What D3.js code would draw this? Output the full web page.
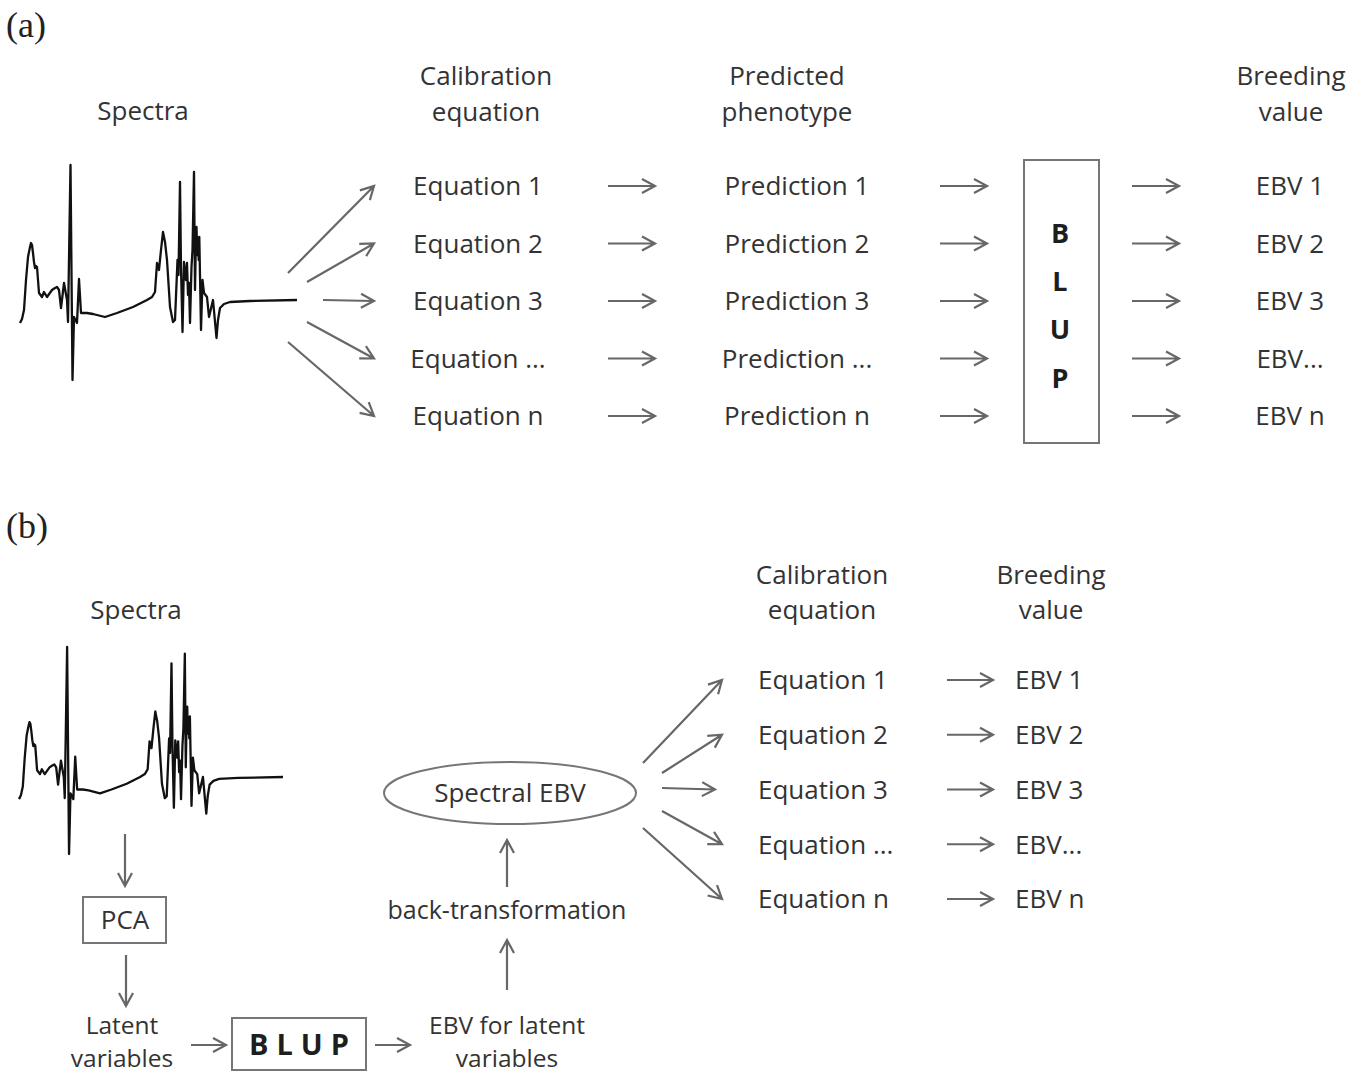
<!DOCTYPE html>
<html>
<head>
<meta charset="utf-8">
<script src="https://cdn.jsdelivr.net/npm/d3@7"></script>
<style>
  html, body { margin: 0; padding: 0; background: #fff; }
  svg { display: block; }
  .lbl { font-family: "Open Sans", sans-serif; fill: #333; }
  .panel { font-family: "Liberation Serif", "Times New Roman", serif; fill: #222; }
</style>
</head>
<body>
<div id="chart"></div>
<script>
// ---- data ----
// spectrum trace: relative wavenumber index and absorbance (arbitrary units)
const spectrumIndex = [0, 2, 4, 6, 8, 10, 11, 12, 13, 14, 15, 16, 17, 19, 22, 24, 27, 32, 35, 37, 39, 41, 44, 47, 48,
  50.5, 52.5, 54, 57, 59, 61, 67, 73, 85, 97, 113, 127, 132, 135, 137, 139, 141, 143, 145, 147, 150, 153, 155,
  157.5, 158.5, 160, 161, 162.5, 164, 165, 166, 167, 168, 169, 170, 171.5, 172.5, 174, 175, 175.8, 176.5,
  177.2, 178, 178.7, 179.3, 180, 181, 182.5, 184, 187, 189, 193, 196.5, 198, 200, 204, 210, 230, 277];
const spectrumAbs = [-23, -19, -10, 20, 43, 53, 57, 55, 47, 38, 32, 34, 33, 7, 3, 8, 3, 10, 12, 13, 10, -8, 17, 0, -22,
  135, -80, -17, -23, 21, -13, -13, -14, -17, -13, -7, 0, 3, 8, 37, 30, 50, 68, 58, 40, -7, -22, -20,
  40, 25, 118, 33, -32, 38, 28, 20, 37, 5, 17, -23, 33, 50, 128, 10, 55, 73, 45, 62, 40, 63, 25, -30, 20, 7,
  3, -17, 0, -38, -20, -8, -4, -2, -1, 0];

const headerTextA = [['Spectra'], ['Calibration', 'equation'], ['Predicted', 'phenotype'], ['Breeding', 'value']];
const equationLabels = ['Equation 1', 'Equation 2', 'Equation 3', 'Equation ...', 'Equation n'];
const predictionLabels = ['Prediction 1', 'Prediction 2', 'Prediction 3', 'Prediction ...', 'Prediction n'];
const ebvLabels = ['EBV 1', 'EBV 2', 'EBV 3', 'EBV...', 'EBV n'];
const blupLetters = ['B', 'L', 'U', 'P'];

const headerTextB = [['Spectra'], ['Calibration', 'equation'], ['Breeding', 'value']];
const pipelineTextB = {
  pca: 'PCA',
  latent: ['Latent', 'variables'],
  blup: 'BLUP',
  latentEbv: ['EBV for latent', 'variables'],
  back: 'back-transformation',
  spectral: 'Spectral EBV'
};
const panelLabels = ['(a)', '(b)'];

// ---- setup ----
const W = 1359, H = 1074;
const FS = 26;            // main font size
const ARROW = '#676767';
const BOX = '#767676';

const svg = d3.select('#chart').append('svg')
  .attr('width', W)
  .attr('height', H);

// draw an arrow with an open chevron head
const arrow = (g, x1, y1, x2, y2) => {
  const ang = Math.atan2(y2 - y1, x2 - x1);
  const len = 13, half = 7;
  const bx = x2 - len * Math.cos(ang), by = y2 - len * Math.sin(ang);
  const px = -Math.sin(ang) * half, py = Math.cos(ang) * half;
  g.append('path')
    .attr('d', `M${x1},${y1}L${x2},${y2}M${bx + px},${by + py}L${x2},${y2}L${bx - px},${by - py}`)
    .attr('fill', 'none')
    .attr('stroke', ARROW)
    .attr('stroke-width', 2.2)
    .attr('stroke-linejoin', 'miter');
};

// text centred on a cap-height midline
const label = (g, txt, x, cy, anchor, size) => {
  const s = size || FS;
  return g.append('text')
    .attr('class', 'lbl')
    .attr('x', x)
    .attr('y', cy + s * 0.714 / 2)
    .attr('text-anchor', anchor || 'middle')
    .attr('font-size', s)
    .text(txt);
};

// multi-line header, baseline of first line given
const header = (g, lines, x, y0, gap, size) => {
  lines.forEach((t, i) => {
    g.append('text')
      .attr('class', 'lbl')
      .attr('x', x)
      .attr('y', y0 + i * gap)
      .attr('text-anchor', 'middle')
      .attr('font-size', size || FS)
      .text(t);
  });
};

const spectrum = spectrumIndex.map((u, i) => [u, spectrumAbs[i]]);

const drawSpectrum = (g, xr, yr) => {
  const x = d3.scaleLinear().domain([0, 277]).range(xr);
  const y = d3.scaleLinear().domain([-80, 135]).range(yr);
  const line = d3.line().x(d => x(d[0])).y(d => y(d[1]));
  g.append('path')
    .datum(spectrum)
    .attr('d', line)
    .attr('fill', 'none')
    .attr('stroke', '#111')
    .attr('stroke-width', 2.3)
    .attr('stroke-linejoin', 'round');
};

// ---- panel (a) ----
const gA = svg.append('g');
gA.append('text').attr('class', 'panel').attr('x', 6).attr('y', 37)
  .attr('font-size', 36).text(panelLabels[0]);

const headerXA = [143, 486, 787, 1291];
headerTextA.forEach((lines, i) => {
  if (lines.length === 1) header(gA, lines, headerXA[i], 120, 36);
  else header(gA, lines, headerXA[i], 85, 36);
});

drawSpectrum(gA, [20, 297], [380, 165]);

const rowA = d3.scalePoint().domain(d3.range(equationLabels.length)).range([186, 416]);

// fan of arrows from the spectrum
const fanStartA = [[288, 273], [307, 282], [323, 300], [307, 322], [288, 342]];
fanStartA.forEach((s, i) => arrow(gA, s[0], s[1], 374, rowA(i)));

equationLabels.forEach((t, i) => label(gA, t, 478, rowA(i)));
predictionLabels.forEach((t, i) => label(gA, t, 797, rowA(i)));
ebvLabels.forEach((t, i) => label(gA, t, 1290, rowA(i)));

d3.range(equationLabels.length).forEach(i => {
  const y = rowA(i);
  arrow(gA, 608, y, 655, y);
  arrow(gA, 940, y, 987, y);
  arrow(gA, 1132, y, 1179, y);
});

gA.append('rect')
  .attr('x', 1024).attr('y', 160)
  .attr('width', 75).attr('height', 283)
  .attr('fill', 'none').attr('stroke', BOX).attr('stroke-width', 2);

const blupY = d3.scalePoint().domain(blupLetters).range([233, 378]);
blupLetters.forEach(l => {
  label(gA, l, 1060, blupY(l), 'middle', 27)
    .attr('font-weight', 'bold')
    .style('fill', '#1e1e1e');
});

// ---- panel (b) ----
const gB = svg.append('g');
gB.append('text').attr('class', 'panel').attr('x', 6).attr('y', 538)
  .attr('font-size', 36).text(panelLabels[1]);

header(gB, headerTextB[0], 136, 619, 35);
header(gB, headerTextB[1], 822, 584, 35);
header(gB, headerTextB[2], 1051, 584, 35);

drawSpectrum(gB, [19, 283], [854, 647]);

// spectrum -> PCA -> latent variables
arrow(gB, 125, 834, 125, 886);
gB.append('rect')
  .attr('x', 83).attr('y', 897)
  .attr('width', 83).attr('height', 46)
  .attr('fill', 'none').attr('stroke', BOX).attr('stroke-width', 2);
label(gB, pipelineTextB.pca, 125, 920);
arrow(gB, 126, 955, 126, 1006);

header(gB, pipelineTextB.latent, 122, 1034, 33, 24.5);
arrow(gB, 191, 1045, 226, 1045);

gB.append('rect')
  .attr('x', 232).attr('y', 1018)
  .attr('width', 134).attr('height', 52)
  .attr('fill', 'none').attr('stroke', BOX).attr('stroke-width', 2);
label(gB, pipelineTextB.blup, 299 + 4, 1045, 'middle', 29)
  .attr('font-weight', 'bold')
  .attr('letter-spacing', 8)
  .style('fill', '#1e1e1e');

arrow(gB, 375, 1045, 410, 1045);
header(gB, pipelineTextB.latentEbv, 507, 1034, 33, 24.5);

// latent EBV -> back-transformation -> spectral EBV
arrow(gB, 507, 990, 507, 940);
label(gB, pipelineTextB.back, 507, 910, 'middle', 25);
arrow(gB, 507, 887, 507, 840);

gB.append('ellipse')
  .attr('cx', 510).attr('cy', 793)
  .attr('rx', 126).attr('ry', 31)
  .attr('fill', 'none').attr('stroke', BOX).attr('stroke-width', 2);
label(gB, pipelineTextB.spectral, 510, 793);

const rowB = d3.scalePoint().domain(d3.range(equationLabels.length)).range([680, 899]);
const fanStartB = [[643, 763], [662, 773], [662, 788], [662, 811], [643, 828]];
const fanEndXB = [722, 722, 715, 722, 722];
fanStartB.forEach((s, i) => arrow(gB, s[0], s[1], fanEndXB[i], rowB(i)));

equationLabels.forEach((t, i) => label(gB, t, 758, rowB(i), 'start'));
ebvLabels.forEach((t, i) => label(gB, t, 1015, rowB(i), 'start'));
d3.range(equationLabels.length).forEach(i => arrow(gB, 947, rowB(i), 993, rowB(i)));
</script>
</body>
</html>
